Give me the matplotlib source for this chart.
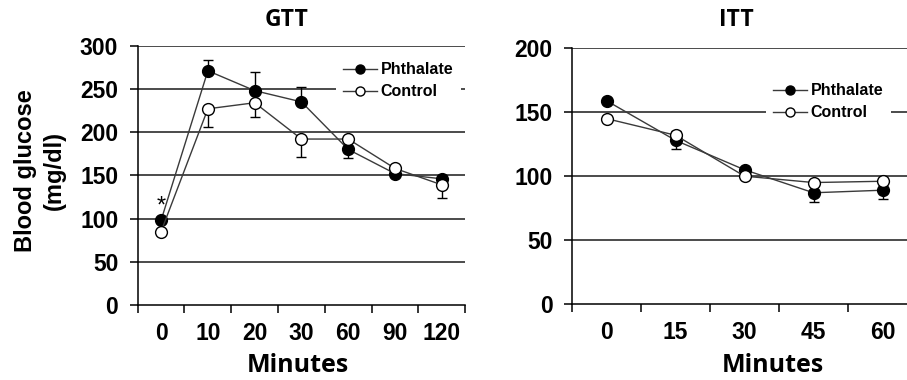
import numpy as np
import matplotlib.pyplot as plt
from matplotlib.lines import Line2D

# GTT data
gtt_labels = ["0", "10", "20", "30", "60", "90", "120"]
gtt_phth = [98, 271, 248, 235, 180, 152, 146]
gtt_phth_lo = [0, 0, 0, 0, 10, 3, 4]
gtt_phth_hi = [2, 12, 22, 17, 0, 0, 0]
gtt_ctrl = [85, 227, 234, 192, 192, 158, 139]
gtt_ctrl_lo = [2, 21, 16, 21, 3, 3, 15]
gtt_ctrl_hi = [0, 0, 0, 0, 0, 0, 0]

# ITT data
itt_labels = ["0", "15", "30", "45", "60"]
itt_phth = [159, 128, 105, 87, 89]
itt_phth_lo = [0, 7, 0, 7, 7]
itt_phth_hi = [0, 0, 0, 0, 0]
itt_ctrl = [145, 132, 100, 95, 96]
itt_ctrl_lo = [0, 0, 0, 0, 0]
itt_ctrl_hi = [2, 3, 0, 0, 0]

W, H = 907, 380
fig = plt.figure(figsize=(W/100, H/100), dpi=100)

arial = "Liberation Sans"
calib = "Open Sans"
tick_fs = 16.5

def panel(rect, labels, phth, plo, phi, ctrl, clo, chi, ymax):
    ax = fig.add_axes(rect)
    x = np.arange(len(labels))
    ax.set_xlim(-0.5, len(labels) - 0.5)
    ax.set_ylim(0, ymax)
    for v in np.arange(50, ymax + 1, 50):
        ax.axhline(v, color="#1a1a1a", lw=1.1, zorder=1)
    ax.errorbar(x, phth, yerr=[plo, phi], fmt="o-", color="#3a3a3a", lw=1.0,
                mfc="black", mec="black", ms=8.5, ecolor="black", elinewidth=1.0,
                capsize=3.5, capthick=1.0, zorder=3)
    ax.errorbar(x, ctrl, yerr=[clo, chi], fmt="o-", color="#3a3a3a", lw=1.0,
                mfc="white", mec="black", mew=1.0, ms=8.5, ecolor="black",
                elinewidth=1.0, capsize=3.5, capthick=1.0, zorder=4)
    for s in ["top", "right"]:
        ax.spines[s].set_visible(False)
    ax.spines["left"].set_linewidth(1.1)
    ax.spines["bottom"].set_linewidth(1.1)
    ax.set_xticks(np.arange(-0.5, len(labels) + 0.5, 1))
    ax.set_xticklabels([])
    ax.set_xticks(x, minor=True)
    ax.set_xticklabels(labels, minor=True, fontsize=tick_fs, fontfamily=arial,
                       fontweight="bold")
    ax.tick_params(axis="x", which="major", length=6, width=1.1, direction="out")
    ax.tick_params(axis="x", which="minor", length=0, pad=12)
    ax.set_yticks(np.arange(0, ymax + 1, 50))
    ax.tick_params(axis="y", length=6, width=1.1, pad=8)
    for t in ax.get_yticklabels():
        t.set_fontsize(tick_fs)
        t.set_fontfamily(arial)
        t.set_fontweight("bold")
    return ax

ax1 = panel([137.7/W, 1 - 305/H, 327.5/W, 259.3/H], gtt_labels,
            gtt_phth, gtt_phth_lo, gtt_phth_hi, gtt_ctrl, gtt_ctrl_lo, gtt_ctrl_hi, 300)
ax2 = panel([572/W, 1 - 304/H, 345/W, 255.7/H], itt_labels,
            itt_phth, itt_phth_lo, itt_phth_hi, itt_ctrl, itt_ctrl_lo, itt_ctrl_hi, 200)

ax1.text(0, 114, "*", ha="center", va="center", fontsize=17, fontfamily=arial)

handles = [Line2D([], [], color="#3a3a3a", lw=1.0, marker="o", mfc="black", mec="black", ms=6.5),
           Line2D([], [], color="#3a3a3a", lw=1.0, marker="o", mfc="white", mec="black", ms=6.5)]
names = ["Phthalate", "Control"]
for ax, (lx, ly) in [(ax1, (336, 55)), (ax2, (766, 76))]:
    leg = ax.legend(handles, names, loc="upper left", bbox_to_anchor=(lx/W, 1 - ly/H),
                    bbox_transform=fig.transFigure, frameon=True, framealpha=1,
                    facecolor="white", edgecolor="none", fancybox=False,
                    handlelength=2.1, handletextpad=0.25, labelspacing=0.45,
                    borderpad=0.45, borderaxespad=0,
                    prop={"family": arial, "weight": "bold", "size": 11.5})
    leg.set_zorder(5)

fig.text(287/W, 1 - 20.5/H, "GTT", ha="center", va="center", fontsize=16.5,
         fontfamily=calib, fontweight="bold")
fig.text(736/W, 1 - 20.5/H, "ITT", ha="center", va="center", fontsize=16.5,
         fontfamily=calib, fontweight="bold")
fig.text(298/W, 1 - 366/H, "Minutes", ha="center", va="center", fontsize=18,
         fontfamily=calib, fontweight="bold")
fig.text(773/W, 1 - 366/H, "Minutes", ha="center", va="center", fontsize=18,
         fontfamily=calib, fontweight="bold")
fig.text(40/W, 1 - 171/H, "Blood glucose\n(mg/dl)", ha="center", va="center",
         rotation=90, fontsize=17, fontfamily=arial, fontweight="bold",
         linespacing=1.35)

fig.savefig("out.png", dpi=100)
